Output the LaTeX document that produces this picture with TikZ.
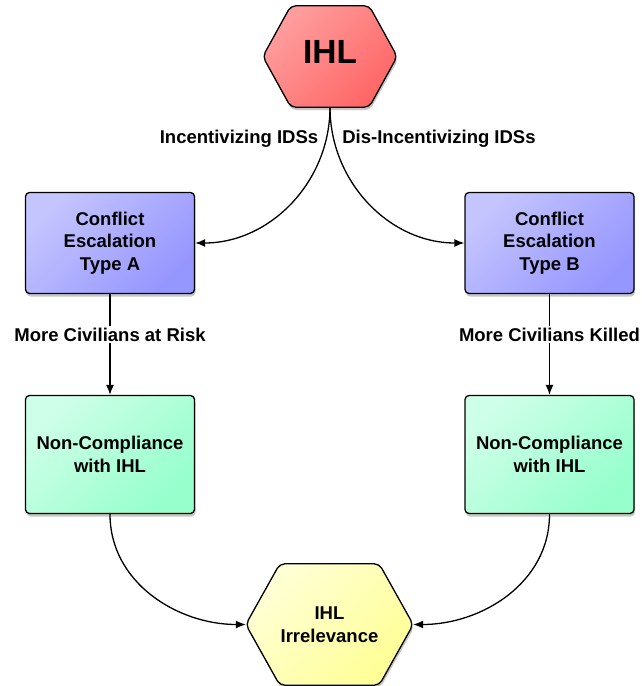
\documentclass[tikz,border=0pt]{standalone}
\usepackage{fontspec}
\setmainfont{Liberation Sans}
\usetikzlibrary{arrows.meta,shadows,backgrounds}
\definecolor{redL}{RGB}{255,158,158}
\definecolor{redD}{RGB}{255,102,102}
\definecolor{blueL}{RGB}{196,196,255}
\definecolor{blueD}{RGB}{150,150,255}
\definecolor{greenL}{RGB}{206,255,232}
\definecolor{greenD}{RGB}{150,255,204}
\definecolor{yelL}{RGB}{255,255,214}
\definecolor{yelD}{RGB}{255,255,150}
\begin{document}
\begin{tikzpicture}[x=1pt,y=1pt,
  every node/.style={font=\bfseries\fontsize{18.5}{22.5}\selectfont},
  shad/.style={drop shadow={shadow xshift=1pt,shadow yshift=-3pt,opacity=0.22,fill=black}},
  box/.style={draw=black, line width=1.3pt, rounded corners=4pt, align=center,
    inner sep=0pt, minimum width=169pt, shad, shading angle=45},
  bluebox/.style={box, top color=blueL, bottom color=blueD, shading angle=45, minimum height=101pt},
  greenbox/.style={box, top color=greenL, bottom color=greenD, shading angle=45, minimum height=118pt},
  hexholder/.style={inner sep=0pt, align=center},
  hexpath/.style={draw=black, line width=1.3pt, rounded corners=5pt, shad},
  conn/.style={draw=black, line width=1.3pt, -{Latex[length=10pt,width=8pt]}},
  lbl/.style={inner sep=2pt}
]
\useasboundingbox (0,0) rectangle (641,-686);

% top hexagon
\node[hexholder, minimum width=134pt, minimum height=101pt, text depth=10pt,
  font=\bfseries\fontsize{33.5}{36}\selectfont] (ihl) at (330,-56.5) {IHL};
% blue boxes
\node[bluebox] (ca) at (110,-243) {Conflict\\Escalation\\Type A};
\node[bluebox] (cb) at (549.5,-243) {Conflict\\Escalation\\Type B};
% green boxes
\node[greenbox] (na) at (110,-454.5) {Non-Compliance\\with IHL};
\node[greenbox] (nb) at (549.5,-454.5) {Non-Compliance\\with IHL};
% bottom hexagon
\node[hexholder, minimum width=167pt, minimum height=121pt] (irr) at (329.5,-624.5) {IHL\\Irrelevance};

\begin{scope}[on background layer]
\path[hexpath, top color=redL, bottom color=redD, shading angle=45]
  (ihl.west) -- ([xshift=28pt]ihl.north west) -- ([xshift=-28pt]ihl.north east)
  -- (ihl.east) -- ([xshift=-28pt]ihl.south east) -- ([xshift=28pt]ihl.south west) -- cycle;
\path[hexpath, top color=yelL, bottom color=yelD, shading angle=45]
  (irr.west) -- ([xshift=34pt]irr.north west) -- ([xshift=-34pt]irr.north east)
  -- (irr.east) -- ([xshift=-34pt]irr.south east) -- ([xshift=34pt]irr.south west) -- cycle;
\end{scope}

% connectors
\draw[conn] (ihl.south) to[out=-90,in=0] (ca.east);
\draw[conn] (ihl.south) to[out=-90,in=180] (cb.west);
\draw[conn] (ca.south) -- (na.north) node[pos=0.4, lbl, fill=white] {More Civilians at Risk};
\draw[conn] (cb.south) -- (nb.north) node[pos=0.4, lbl, fill=white] {More Civilians Killed};
\draw[conn] (na.south) to[out=-90,in=180] (irr.west);
\draw[conn] (nb.south) to[out=-90,in=0] (irr.east);

% edge labels
\node[anchor=base] (li) at (239,-143) {Incentivizing IDSs};
\node[anchor=base] (ld) at (439,-143) {Dis-Incentivizing IDSs};
\end{tikzpicture}
\end{document}
